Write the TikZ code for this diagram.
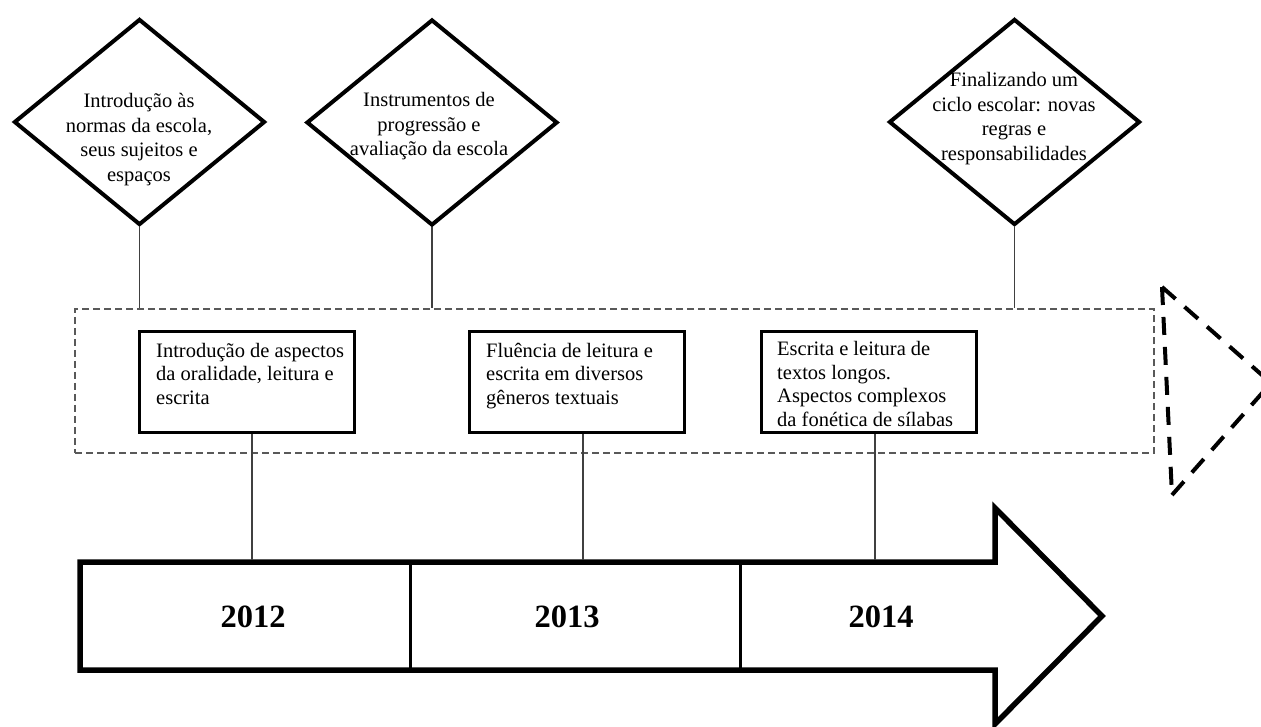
\documentclass[tikz,border=0pt]{standalone}
\usepackage{fontspec}
\setmainfont{Liberation Serif}
\usetikzlibrary{shapes.geometric}

\begin{document}
\begin{tikzpicture}[x=1pt,y=-1pt,
  milestone/.style={draw, shape=diamond, line width=4pt, minimum width=251pt,
    minimum height=206pt, inner sep=0pt},
  milestonetext/.style={inner sep=0pt, align=center, anchor=base,
    font=\fontsize{20.5}{24.5}\selectfont},
  topicbox/.style={draw, line width=3pt, minimum width=215pt,
    minimum height=101pt, inner sep=0pt},
  topictext/.style={inner sep=0pt, align=left, anchor=base west,
    font=\fontsize{20.5}{23.5}\selectfont},
  band/.style={draw=black!65, line width=1.3pt, dash pattern=on 7pt off 4pt,
    minimum width=1079pt, minimum height=144pt, inner sep=0pt},
  link/.style={draw=black!75, line width=1.3pt},
  yearlabel/.style={inner sep=0pt, font=\fontsize{32.5}{36}\selectfont\bfseries},
  timeline/.style={line width=5.5pt, line join=miter},
  divider/.style={line width=3pt},
  next/.style={line width=4pt, dash pattern=on 18pt off 12pt}]

\useasboundingbox (0,0) rectangle (1261,727);
\clip (0,0) rectangle (1261,727);

% milestones along the top (text placed by the baseline of its last line)
\node[milestone] (d1) at (139.5,122) {};
\node[milestone] (d2) at (432,122.5) {};
\node[milestone] (d3) at (1014.5,122) {};
\node[milestonetext] (t1) at (139,181.5)
  {Introdução às\\normas da escola,\\seus sujeitos e\\espaços};
\node[milestonetext] (t2) at (429,156)
  {Instrumentos de\\progressão e\\avaliação da escola};
\node[milestonetext] (t3) at (1014,160.5)
  {Finalizando um\\ciclo escolar: novas\\regras e\\responsabilidades};

% dashed band holding the yearly topics
\node[band] (band) at (614.5,381) {};

% yearly topics
\node[topicbox] (b1) at (246.5,382) {};
\node[topicbox] (b2) at (576.5,382) {};
\node[topicbox] (b3) at (868.5,382) {};
\node[topictext] (p1) at (156,404)
  {Introdução de aspectos\\da oralidade, leitura e\\escrita};
\node[topictext] (p2) at (486,404)
  {Fluência de leitura e\\escrita em diversos\\gêneros textuais};
\node[topictext] (p3) at (777,426)
  {Escrita e leitura de\\textos longos.\\Aspectos complexos\\da fonética de sílabas};

% timeline arrow
\coordinate (atop) at (0,559.5);
\draw[timeline] (80,562) -- (995,562) -- (995,508) -- (1102,616)
  -- (995,724) -- (995,670) -- (80,670) -- cycle;
\draw[divider] (410,562) -- (410,670);
\draw[divider] (740,562) -- (740,670);
\node[yearlabel] (y1) at (253,617) {2012};
\node[yearlabel] (y2) at (567,617) {2013};
\node[yearlabel] (y3) at (881,617) {2014};

% dashed continuation marker
\draw[next] (1162,287) -- (1172,495) (1162,287) -- (1271,383) (1172,495) -- (1271,383);

% connectors
\draw[link] (d1.south) -- (d1.south |- band.north);
\draw[link] (d2.south) -- (d2.south |- band.north);
\draw[link] (d3.south) -- (d3.south |- band.north);
\coordinate (c1) at ([xshift=5.5pt]b1.south);
\coordinate (c2) at ([xshift=6.5pt]b2.south);
\coordinate (c3) at ([xshift=6.5pt]b3.south);
\draw[link] (c1) -- (c1 |- atop);
\draw[link] (c2) -- (c2 |- atop);
\draw[link] (c3) -- (c3 |- atop);
\end{tikzpicture}
\end{document}
